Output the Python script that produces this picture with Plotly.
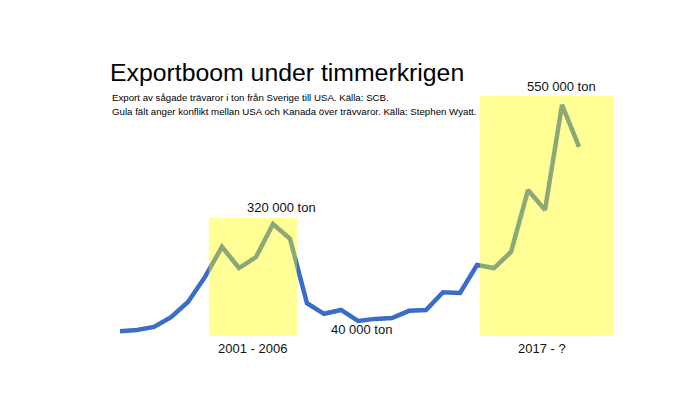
import plotly.graph_objects as go

years = list(range(1996, 2024))
export_kton = [16, 19, 26, 49, 85, 144, 215, 165, 191, 269, 234, 82, 57, 66,
               40, 45, 47, 64, 66, 108, 106, 172, 165, 203, 349, 302, 550, 451]

conflicts = [(2001.23, 2006.41, 283), (2017.18, 2025.0, 571)]
labels = [
    (2005.47, 309, "320 000 ton"),
    (2010.2, 19, "40 000 ton"),
    (2021.94, 594, "550 000 ton"),
]
period_labels = [(2003.82, "2001 - 2006"), (2020.82, "2017 - ?")]
title = "Exportboom under timmerkrigen"
subtitle1 = "Export av sågade trävaror i ton från Sverige till USA. Källa: SCB."
subtitle2 = "Gula fält anger konflikt mellan USA och Kanada över trävvaror. Källa: Stephen Wyatt."

Y0, Y1 = 4.6, 571
FONT = "Liberation Sans, Arial"

fig = go.Figure()
fig.add_trace(go.Scatter(x=years, y=export_kton, mode="lines",
                         line=dict(color="#3a6cc9", width=4.5),
                         hoverinfo="skip"))

for x0, x1, top in conflicts:
    fig.add_shape(type="rect", xref="x", yref="y", x0=x0, x1=x1, y0=Y0, y1=top,
                  fillcolor="rgba(255,255,0,0.41)", line=dict(width=0), layer="above")

def ypaper(v):
    return (v - Y0) / (Y1 - Y0)

for x, y, t in labels:
    fig.add_annotation(x=x, y=ypaper(y), text=t, showarrow=False, xref="x", yref="paper",
                       yanchor="middle", font=dict(size=13, color="#111", family=FONT))
for x, t in period_labels:
    fig.add_annotation(x=x, y=-(348 - 336) / 240, text=t, showarrow=False, xref="x",
                       yref="paper", yanchor="middle",
                       font=dict(size=13, color="#111", family=FONT))

fig.add_annotation(x=(108 - 100) / 520, y=1 + (96 - 73) / 240, xref="paper", yref="paper",
                   text=title, showarrow=False, xanchor="left", yanchor="middle",
                   font=dict(size=24.8, color="#000", family=FONT))
fig.add_annotation(x=(110 - 100) / 520, y=1 + (96 - 97) / 240, xref="paper", yref="paper",
                   text=subtitle1, showarrow=False, xanchor="left", yanchor="middle",
                   font=dict(size=9.7, color="#000", family=FONT))
fig.add_annotation(x=(110 - 100) / 520, y=1 + (96 - 111) / 240, xref="paper", yref="paper",
                   text=subtitle2, showarrow=False, xanchor="left", yanchor="middle",
                   font=dict(size=9.7, color="#000", family=FONT))

fig.update_layout(
    width=692, height=386,
    margin=dict(l=92, r=80, t=88, b=58),
    paper_bgcolor="white", plot_bgcolor="white",
    showlegend=False,
    font=dict(family=FONT, color="#111"),
    xaxis=dict(range=[1994.824, 2025.41], visible=False, fixedrange=True),
    yaxis=dict(range=[Y0, Y1], visible=False, fixedrange=True),
)

fig.write_html("out.html")
